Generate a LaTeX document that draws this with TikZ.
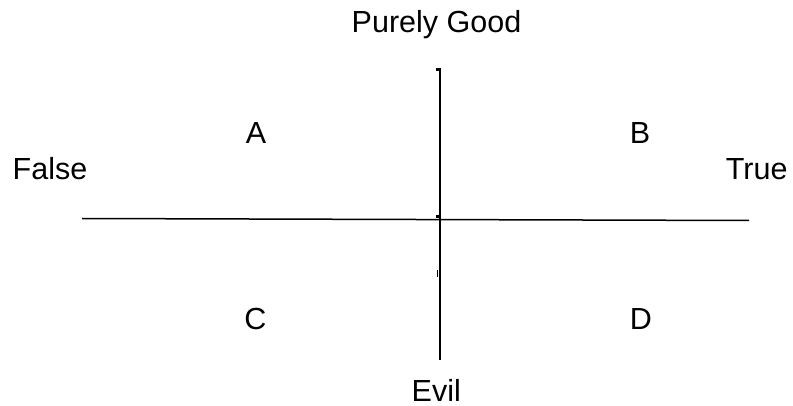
\documentclass[tikz,border=0pt]{standalone}
\usepackage{fontspec}
\setmainfont{Liberation Sans}
\begin{document}
\begin{tikzpicture}[x=1pt,y=-1pt,
  lbl/.style={anchor=base,inner sep=0pt,font=\fontsize{30.5}{32}\selectfont},
  axis/.style={line width=1.5pt,black}]
\useasboundingbox (0,0) rectangle (793,406);
\fill[white] (0,0) rectangle (793,406);
% axes
\coordinate (L) at (82,218.5);
\coordinate (R) at (749,220.5);
\coordinate (T) at (439.8,68.3);
\coordinate (Bt) at (439.8,360);
\draw[axis] (L) -- (R);
\draw[axis] (T) -- (Bt);
% small marks
\fill (435.5,68.3) rectangle (439,70.8);
\fill (435.8,215.3) rectangle (438.5,218);
\fill (436.5,270) rectangle (438,277);
% labels
\node[lbl] (good) at (436.5,33) {Purely Good};
\node[lbl] (evil) at (436.3,401.5) {Evil};
\node[lbl] (false) at (50,179.3) {False};
\node[lbl] (true) at (756.7,179.2) {True};
\node[lbl] (A) at (256,143.3) {A};
\node[lbl] (B) at (640,143.3) {B};
\node[lbl] (C) at (255.3,329) {C};
\node[lbl] (D) at (640.8,329) {D};
\end{tikzpicture}
\end{document}
